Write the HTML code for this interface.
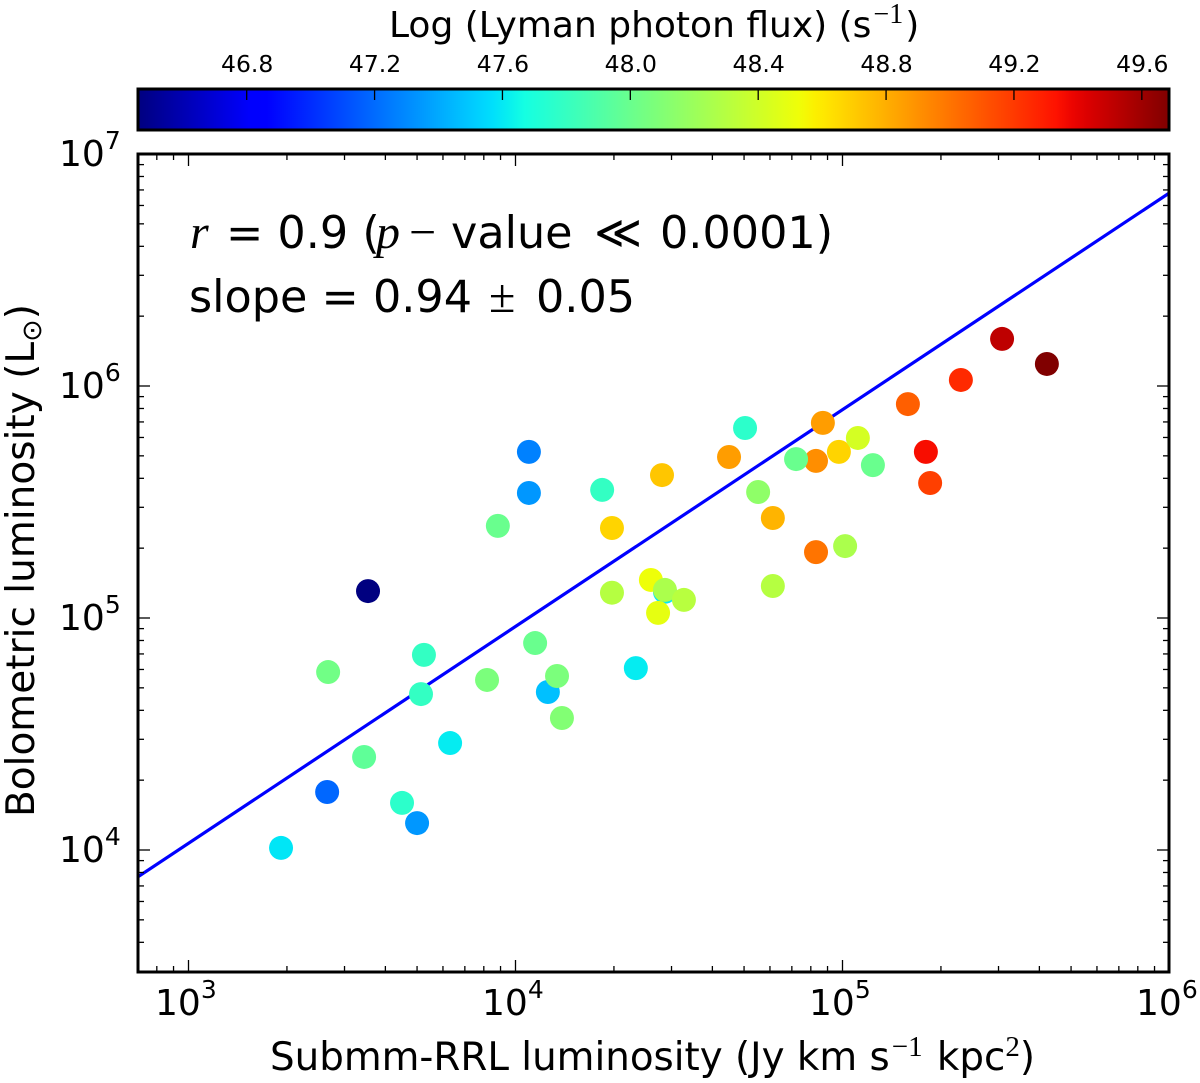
<!DOCTYPE html>
<html lang="en">
<head>
<meta charset="utf-8">
<title>Bolometric vs submm-RRL luminosity</title>
<style>
html,body{margin:0;padding:0;background:#fff;width:1200px;height:1083px;overflow:hidden}
svg{display:block;font-family:"DejaVu Sans","Liberation Sans",sans-serif;fill:#000}
.cm{font-family:"Liberation Serif","DejaVu Serif",serif}
.it{font-family:"Liberation Serif","DejaVu Serif",serif;font-style:italic}
</style>
</head>
<body>
<svg id="chart" xmlns="http://www.w3.org/2000/svg" width="1200" height="1083" viewBox="0 0 1200 1083">
  <defs>
    <linearGradient id="jet" x1="0" y1="0" x2="1" y2="0"></linearGradient>
    <clipPath id="plot-clip"><rect x="138" y="154" width="1031" height="818"></rect></clipPath>
  </defs>

  <text x="389" y="37" font-size="36">Log (Lyman photon flux) (s<tspan class="cm" font-size="28" dy="-14" dx="2">−1</tspan><tspan dy="14" dx="2">)</tspan></text>
  <rect x="138" y="89" width="1031" height="41" fill="url(#jet)"></rect>
  <g id="cbar-ticks"></g>
  <rect x="138" y="89" width="1031" height="41" fill="none" stroke="#000" stroke-width="3"></rect>

  <g clip-path="url(#plot-clip)">
    <path id="fit-line" fill="none" stroke="#0000ff" stroke-width="3.2"></path>
    <g id="points"></g>
  </g>
  <g id="ticks"></g>
  <rect x="138" y="154" width="1031" height="818" fill="none" stroke="#000" stroke-width="3"></rect>
  <g id="tick-labels"></g>

  <text y="248" font-size="44.5"><tspan class="it" x="190" font-size="48">r</tspan><tspan x="226">= 0.9 (</tspan><tspan class="it" x="376" font-size="48">p</tspan><tspan class="cm" x="409" font-size="48">−</tspan><tspan x="451">value</tspan><tspan class="cm" x="594" font-size="46">≪</tspan><tspan x="660">0.0001)</tspan></text>
  <text y="312" font-size="44.5"><tspan x="189">slope = 0.94</tspan><tspan class="cm" x="489" font-size="48">±</tspan><tspan x="536">0.05</tspan></text>

  <text x="270" y="1070" font-size="38.8">Submm-RRL luminosity (Jy km s<tspan class="cm" font-size="29" dy="-14" dx="2">−1</tspan><tspan dy="14" dx="2"> kpc</tspan><tspan class="cm" font-size="29" dy="-14">2</tspan><tspan dy="14">)</tspan></text>
  <text transform="translate(34,817) rotate(-90)" font-size="39">Bolometric luminosity (L<tspan font-size="27" dy="7">⊙</tspan><tspan dy="-7">)</tspan></text>
</svg>
<script>
// Chart data (log10 values)
var xDecades = [3, 4, 5, 6];
var yDecades = [4, 5, 6, 7];
var colorTicks = [46.8, 47.2, 47.6, 48.0, 48.4, 48.8, 49.2, 49.6];
var fitLogX = [2.845, 6];
var fitLogY = [3.884, 6.8325];
var logSubmm = [4.457,3.283,3.424,3.549,3.427,3.537,3.653,3.699,3.711,3.720,3.800,3.913,3.946,4.041,4.041,4.060,4.099,4.127,4.142,4.265,4.295,4.295,4.368,4.414,4.457,4.436,4.448,4.515,4.653,4.702,4.742,4.787,4.787,4.919,4.858,4.919,4.940,4.989,5.008,5.047,5.093,5.200,5.255,5.268,5.362,5.488,5.625];
var logBol = [5.113,4.009,4.250,5.116,4.767,4.401,4.203,4.116,4.672,4.841,4.461,4.733,5.397,5.716,5.539,4.892,4.681,4.750,4.569,5.552,5.388,5.109,4.784,5.164,5.121,5.022,5.616,5.078,5.694,5.819,5.543,5.431,5.138,5.677,5.685,5.284,5.841,5.716,5.310,5.776,5.659,5.922,5.716,5.582,6.026,6.203,6.095];
var logLyman = [47.60,47.59,47.19,46.46,48.03,47.96,47.76,47.34,47.79,47.79,47.61,48.07,48.00,47.27,47.34,48.00,47.47,48.07,48.10,47.79,48.67,48.30,47.61,48.52,48.26,48.49,48.72,48.31,48.86,47.76,48.15,48.78,48.30,48.91,48.00,49.00,48.86,48.67,48.26,48.42,48.00,49.07,49.35,49.18,49.25,49.51,49.685];

// Axis functions
var xScale = function (v) { return 188.5 + (v - 3) * 327; };
var yScale = function (v) { return 850 - (v - 4) * 232; };
var cMin = 46.46, cMax = 49.685;
var cScale = function (v) { return 138 + (v - cMin) / (cMax - cMin) * 1031; };

var NS = 'http://www.w3.org/2000/svg';
function lerpSeg(seg, t) {
  for (var i = 1; i < seg.length; i++) {
    if (t <= seg[i][0]) {
      var a = seg[i - 1], b = seg[i];
      return a[1] + (b[1] - a[1]) * (t - a[0]) / (b[0] - a[0]);
    }
  }
  return seg[seg.length - 1][1];
}
var rSeg = [[0,0],[0.35,0],[0.66,1],[0.89,1],[1,0.5]];
var gSeg = [[0,0],[0.125,0],[0.375,1],[0.64,1],[0.91,0],[1,0]];
var bSeg = [[0,0.5],[0.11,1],[0.34,1],[0.65,0],[1,0]];
function jet(t) {
  t = Math.max(0, Math.min(1, t));
  return 'rgb(' + Math.round(255 * lerpSeg(rSeg, t)) + ',' + Math.round(255 * lerpSeg(gSeg, t)) + ',' + Math.round(255 * lerpSeg(bSeg, t)) + ')';
}
function make(tag, attrs, parent) {
  var el = document.createElementNS(NS, tag);
  for (var k in attrs) el.setAttribute(k, attrs[k]);
  parent.appendChild(el);
  return el;
}

// Colorbar gradient
var grad = document.getElementById('jet');
for (var s = 0; s <= 64; s++) {
  make('stop', { offset: (s / 64), 'stop-color': jet(s / 64) }, grad);
}

// Colorbar ticks and labels
var cbarG = document.getElementById('cbar-ticks');
colorTicks.forEach(function (v) {
  var x = cScale(v);
  var tick = make('line', { x1: x, x2: x, y1: 89, y2: 100, stroke: '#000', 'stroke-width': 1.3 }, cbarG);
  
  
  var lab = make('text', { x: x + 0.5, y: 72, 'font-size': 23.5, 'text-anchor': 'middle' }, cbarG);
  
  
  lab.textContent = v.toFixed(1);
});

// Axis ticks
var tickG = document.getElementById('ticks');
function tickLine(x1, y1, x2, y2, w) {
  var t = make('line', { x1: x1, y1: y1, x2: x2, y2: y2, stroke: '#000', 'stroke-width': w }, tickG);
  
  
}
var factors = [2, 3, 4, 5, 6, 7, 8, 9];
for (var d = 2; d <= 6; d++) {
  var xm = xScale(d);
  if (xm >= 138 && xm <= 1169 && d < 6) {
    tickLine(xm, 972, xm, 960, 1.3);
    tickLine(xm, 154, xm, 166, 1.3);
  }
  factors.forEach(function (f) {
    var xv = xScale(d + Math.log10(f));
    if (xv > 139 && xv < 1168) {
      tickLine(xv, 972, xv, 966, 1.3);
      tickLine(xv, 154, xv, 160, 1.3);
    }
  });
}
for (var e = 3; e <= 7; e++) {
  var ym = yScale(e);
  if (ym > 155 && ym < 971) {
    tickLine(138, ym, 150, ym, 1.3);
    tickLine(1169, ym, 1157, ym, 1.3);
  }
  factors.forEach(function (f) {
    var yv = yScale(e + Math.log10(f));
    if (yv > 155 && yv < 971) {
      tickLine(138, yv, 144, yv, 1.3);
      tickLine(1169, yv, 1163, yv, 1.3);
    }
  });
}

// Tick labels
var labG = document.getElementById('tick-labels');
function powerLabel(x, y, exp, name) {
  var t = make('text', { x: x, y: y, 'font-size': 36 }, labG);
  
  
  t.textContent = '10';
  var sup = make('tspan', { 'font-size': 25, dy: -17 }, t);
  sup.textContent = String(exp);
}
xDecades.forEach(function (d) {
  powerLabel(xScale(d) - 33.5, 1015, d, 'x-tick-label');
});
yDecades.forEach(function (d) {
  powerLabel(59, yScale(d) + 12, d, 'y-tick-label');
});

// Fit line
document.getElementById('fit-line').setAttribute('d',
  'M' + xScale(fitLogX[0]) + ' ' + yScale(fitLogY[0]) + ' L' + xScale(fitLogX[1]) + ' ' + yScale(fitLogY[1]));

// Points
var ptG = document.getElementById('points');
logSubmm.forEach(function (lx, i) {
  var c = make('circle', {
    cx: xScale(lx),
    cy: yScale(logBol[i]),
    r: 12,
    fill: jet((logLyman[i] - cMin) / (cMax - cMin))
  }, ptG);
  
  
});
</script>
</body>
</html>
